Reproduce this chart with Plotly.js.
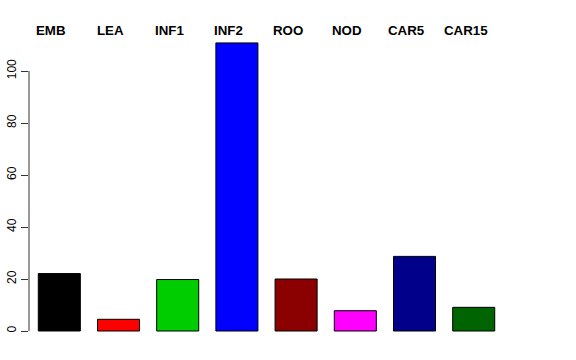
<!DOCTYPE html>
<html><head><meta charset="utf-8">
<script src="https://cdn.plot.ly/plotly-3.0.1.min.js"></script>
<style>html,body{margin:0;padding:0;background:#fff}</style>
</head><body>
<div id="chart" style="width:576px;height:360px"></div>
<script>
const categories = ["EMB","LEA","INF1","INF2","ROO","NOD","CAR5","CAR15"];
const values = [22.1, 4.5, 19.8, 110.8, 20.0, 7.8, 28.7, 9.1];
const barColors = ["#000000","#FF0000","#00CD00","#0000FF","#8B0000","#FF00FF","#00008B","#006400"];
const yTicks = [0,20,40,60,80,100];

const xIdx = categories.map((c,i)=>i);
const trace = {
  type: "bar",
  x: xIdx,
  y: values,
  width: 0.71,
  marker: {color: barColors, line: {color: "#000", width: 1}},
  hoverinfo: "none"
};
const annotations = categories.map((c,i)=>({
  x: i, xref: "x", y: 1, yref: "paper", yanchor: "middle", yshift: 5, xshift: -8,
  text: "<b>"+c+"</b>", showarrow: false,
  font: {family: "Liberation Sans, Arial, sans-serif", size: 13.3, color: "#000"}
}));
const layout = {
  width: 576, height: 360,
  margin: {l: 29, r: 47, t: 35, b: 20},
  paper_bgcolor: "#fff", plot_bgcolor: "#fff",
  showlegend: false,
  xaxis: {range: [-0.512, 7.934], showgrid: false, zeroline: false, showline: false,
          showticklabels: false, ticks: ""},
  yaxis: {range: [-3.46, 113.85], showgrid: false, zeroline: false, showline: false,
          tickvals: yTicks, ticktext: yTicks.map(String), ticks: "outside", ticklen: 7,
          tickcolor: "#333", tickwidth: 1, tickangle: -90,
          tickfont: {family: "Liberation Sans, Arial, sans-serif", size: 12, color: "#000"}},
  shapes: [{type: "line", xref: "paper", yref: "y", x0: 0, x1: 0, y0: 0, y1: 100,
            line: {color: "#333", width: 1}}],
  annotations: annotations
};
Plotly.newPlot("chart", [trace], layout, {displayModeBar: false, staticPlot: true});
</script>
</body></html>
